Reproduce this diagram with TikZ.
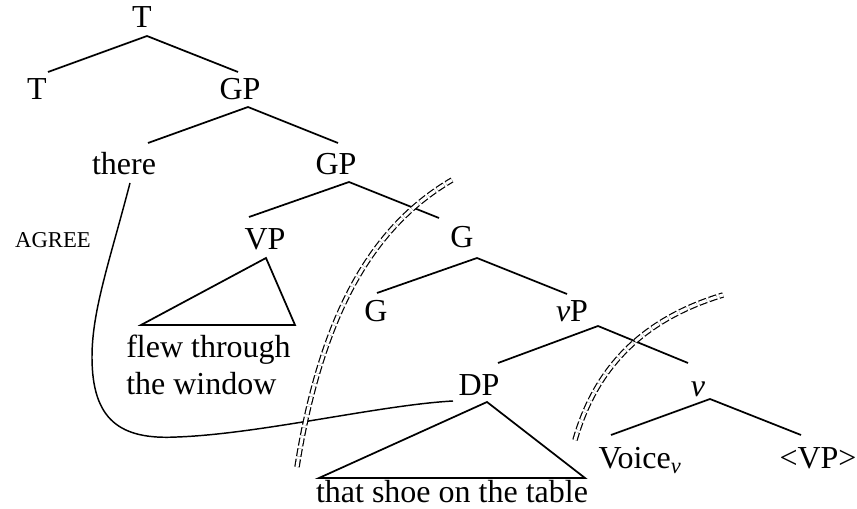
\documentclass[tikz,border=0pt]{standalone}
\usepackage{fontspec}
\setmainfont{Liberation Serif}
\usetikzlibrary{calc}
\tikzset{cat/.style = {inner sep=0pt, anchor=base, font=\fontsize{24}{27.75}\selectfont},
         note/.style = {inner sep=0pt, anchor=base, font=\fontsize{17}{20}\selectfont},
         branch/.style = {line width=1.3pt},
         phase/.style = {double, double distance=2.3pt, line width=0.9pt, dash pattern=on 6pt off 2pt}}

\begin{document}
\begin{tikzpicture}[x=0.75pt,y=-0.75pt]
        \useasboundingbox(0,0)rectangle(857,509);

        \node[cat](t0)at(142,28){T};
        \node[cat](t1)at(37,100){T};
        \node[cat](gp0)at(240,100){GP};
        \draw[branch]($(t1.base)+(11,-28)$)--($(t0.base)+(5,8)$)--($(gp0.base)+(-2,-28)$);

        \node[cat](there)at(124,175){there};
        \node[cat](gp1)at(336,175){GP};
        \draw[branch]($(there.base)+(24,-32)$)--($(gp0.base)+(8,7)$)--($(gp1.base)+(2,-32)$);

        \node[cat](vp)at(265,250){VP};
        \node[cat](g0)at(462,248){G};
        \draw[branch]($(vp.base)+(-16,-33)$)--($(gp1.base)+(13,7)$)--($(g0.base)+(-23,-30)$);

        \node[cat,anchor=base west,align=left](flew)at(126,395){flew through\\the window};
        \draw[branch]($(flew.base west)+(15,-70)$)--($(vp.base)+(1,8)$)--($(flew.base west)+(169,-70)$)--cycle;

        \node[cat](g1)at(376,322){G};
        \node[cat](vp1)at(572,322){{\itshape v}P};
        \draw[branch]($(g1.base)+(1,-29)$)--($(g0.base)+(15,10)$)--($(vp1.base)+(-5,-28)$);

        \node[cat](dp)at(479,396){DP};
        \node[cat](v)at(698,397){\itshape v};
        \draw[branch]($(dp.base)+(19,-33)$)--($(vp1.base)+(26,4)$)--($(v.base)+(-10,-34)$);

        \node[cat](shoe)at(452,503){that shoe on the table};
        \draw[branch]($(shoe.base)+(-133,-25)$)--($(dp.base)+(8,6)$)--($(shoe.base)+(133,-25)$)--cycle;

        \node[cat](voice)at(640,469){Voice\textsubscript{\itshape v}};
        \node[cat](vpt)at(818,469){<VP>};
        \draw[branch]($(voice.base)+(-29,-34)$)--($(v.base)+(12,2)$)--($(vpt.base)+(-17,-34)$);

        % agree
        \node[note](agree)at(53,248){AGREE};
        \draw[line width=1.1pt]($(there.base)+(6,8)$)..controls(110,260)and(92,310)..(92,357)
            ..controls(92,420)and(120,440)..(177,437)
            ..controls(260,434)and(380,405)..($(dp.base)+(-26,5)$);

        % phase edges
        \coordinate(p0)at(297,467);
        \coordinate(p1)at(452,180);
        \coordinate(q0)at(575,440);
        \coordinate(q1)at(723,295);
        \draw[phase](p0)..controls(322,310)and(375,225)..(p1);
        \draw[phase](q0)..controls(595,370)and(640,320)..(q1);
    \end{tikzpicture}
\end{document}
